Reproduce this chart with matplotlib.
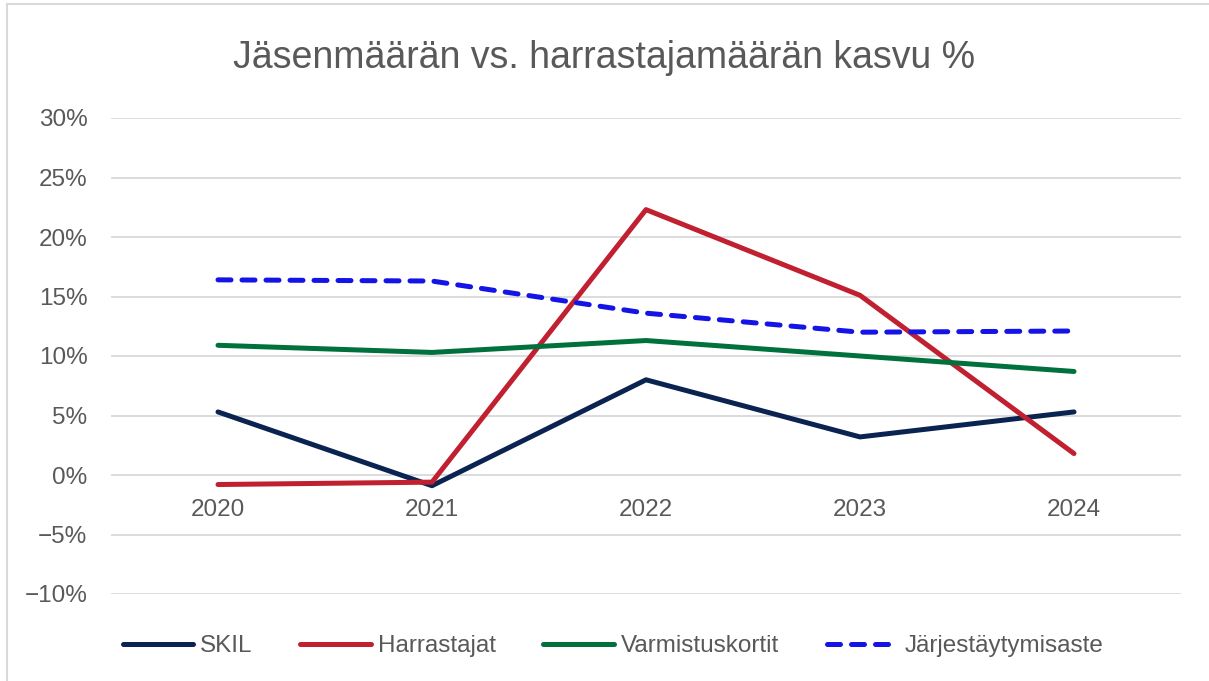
import matplotlib.pyplot as plt
from matplotlib.lines import Line2D
from matplotlib.ticker import FuncFormatter

years = ['2020', '2021', '2022', '2023', '2024']
skil = [5.3, -0.9, 8.0, 3.2, 5.3]
harrastajat = [-0.8, -0.6, 22.3, 15.1, 1.8]
varmistuskortit = [10.9, 10.3, 11.3, 10.0, 8.7]
jarjestaytymisaste = [16.4, 16.3, 13.6, 12.0, 12.1]

plt.rcParams['font.family'] = ['Liberation Sans', 'DejaVu Sans']
grey = '#595959'

fig = plt.figure(figsize=(12.09, 6.81), dpi=100)
ax = fig.add_axes([111 / 1209, 1 - 594 / 681, 1070 / 1209, 476 / 681])

x = range(len(years))
lw = 3.6
ax.plot(x, skil, color='#0b2350', lw=lw, solid_capstyle='round', label='SKIL')
ax.plot(x, harrastajat, color='#c0202f', lw=lw, solid_capstyle='round', label='Harrastajat')
ax.plot(x, varmistuskortit, color='#00703c', lw=lw, solid_capstyle='round', label='Varmistuskortit')
ax.plot(x, jarjestaytymisaste, color='#1414e6', lw=lw, ls=(0, (2.6, 2.2)),
        dash_capstyle='round', label='Järjestäytymisaste')

ax.set_xlim(-0.5, len(years) - 0.5)
ax.set_ylim(-10, 30)
ax.set_yticks(range(-10, 31, 5))
ax.yaxis.set_major_formatter(FuncFormatter(lambda v, p: f'{v:.0f}%'.replace('-', '\u2212')))
ax.tick_params(axis='y', length=0, pad=17, labelsize=17.5, labelcolor=grey)
ax.set_xticks([])
ax.grid(axis='y', color='#d9d9d9', lw=1.3)
ax.set_axisbelow(True)
for s in ax.spines.values():
    s.set_visible(False)

for i, yr in enumerate(years):
    ax.annotate(yr, (i, 0), xytext=(0, -25), textcoords='offset points',
                ha='center', va='center', fontsize=17.5, color=grey)

fig.text(0.5, 1 - 58 / 681, 'Jäsenmäärän vs. harrastajamäärän kasvu %',
         ha='center', va='center', fontsize=27, color=grey)

fig.legend(loc='center', bbox_to_anchor=(613 / 1209, 1 - 646 / 681), ncol=4, frameon=False,
           fontsize=17.5, labelcolor=grey, handlelength=2.9, handletextpad=0.3,
           columnspacing=1.95)

fig.add_artist(Line2D([7 / 1209, 7 / 1209], [0, 1 - 4 / 681], color='#d9d9d9', lw=1.5))
fig.add_artist(Line2D([7 / 1209, 1], [1 - 4 / 681, 1 - 4 / 681], color='#d9d9d9', lw=1.5))

fig.savefig('out.png', dpi=100)
